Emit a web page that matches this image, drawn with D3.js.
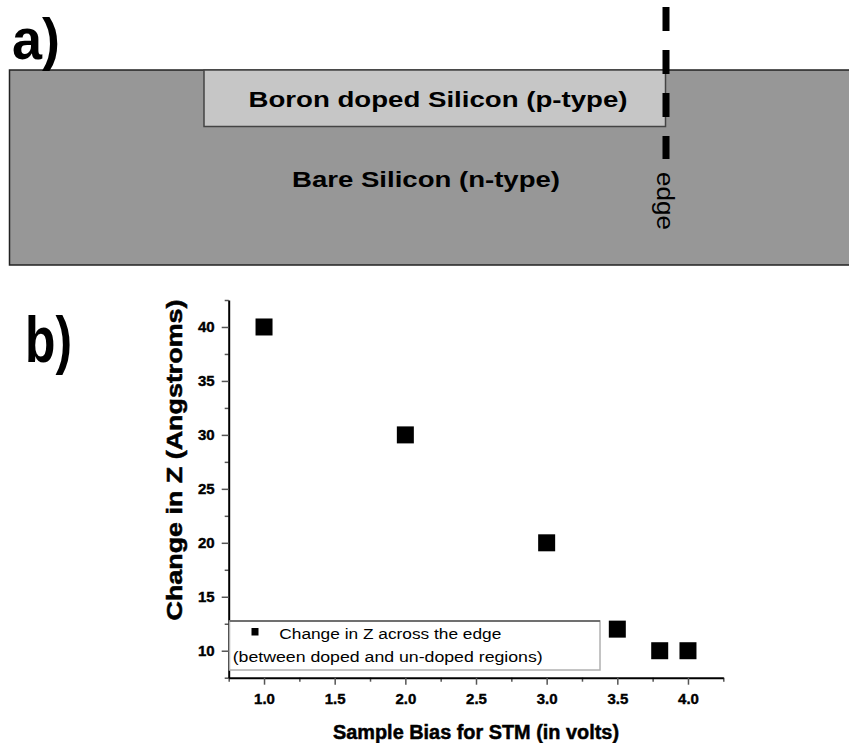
<!DOCTYPE html>
<html>
<head>
<meta charset="utf-8">
<script src="https://cdn.jsdelivr.net/npm/d3@7"></script>
<style>
  html, body { margin: 0; padding: 0; background: #fff; }
  svg { display: block; font-family: "Liberation Sans", Arial, sans-serif; }
</style>
</head>
<body>
<svg id="fig" width="849" height="743"></svg>
<script>
// Sample bias (V) and measured step height across the doped/un-doped edge (Å)
const sampleBias = [1.0, 2.0, 3.0, 3.5, 3.8, 4.0];
const deltaZ = [40, 30, 20, 12, 10, 10];

const xMajorTicks = [1.0, 1.5, 2.0, 2.5, 3.0, 3.5, 4.0];
const xMinorTicks = [0.75, 1.25, 1.75, 2.25, 2.75, 3.25, 3.75, 4.25];
const yMajorTicks = [10, 15, 20, 25, 30, 35, 40];
const yMinorTicks = [7.5, 12.5, 17.5, 22.5, 27.5, 32.5, 37.5, 42.5];

const svg = d3.select("#fig");

// ---------- panel a: schematic of the sample ----------
const pa = svg.append("g");
pa.append("rect")
  .attr("x", 9.5).attr("y", 70).attr("width", 860).attr("height", 195)
  .attr("fill", "#979797").attr("stroke", "#222").attr("stroke-width", 1.5);
pa.append("rect")
  .attr("x", 204).attr("y", 70).attr("width", 461.5).attr("height", 56.5)
  .attr("fill", "#c6c6c6").attr("stroke", "#444").attr("stroke-width", 1.5);
pa.append("line")
  .attr("x1", 666).attr("x2", 666).attr("y1", 7).attr("y2", 159)
  .attr("stroke", "#000").attr("stroke-width", 7)
  .attr("stroke-dasharray", "24 19");
pa.append("text")
  .attr("transform", "translate(657,172) rotate(90)")
  .attr("font-size", 23).attr("textLength", 58).attr("lengthAdjust", "spacingAndGlyphs")
  .text("edge");
pa.append("text")
  .attr("x", 438).attr("y", 107).attr("text-anchor", "middle")
  .attr("font-size", 22).attr("font-weight", "bold")
  .attr("textLength", 379).attr("lengthAdjust", "spacingAndGlyphs")
  .text("Boron doped Silicon (p-type)");
pa.append("text")
  .attr("x", 426).attr("y", 187).attr("text-anchor", "middle")
  .attr("font-size", 22).attr("font-weight", "bold")
  .attr("textLength", 268).attr("lengthAdjust", "spacingAndGlyphs")
  .text("Bare Silicon (n-type)");
svg.append("text")
  .attr("x", 12).attr("y", 59)
  .attr("font-size", 58).attr("font-weight", "bold")
  .attr("textLength", 48).attr("lengthAdjust", "spacingAndGlyphs")
  .text("a)");

// ---------- panel b: step height vs. sample bias ----------
svg.append("text")
  .attr("x", 25).attr("y", 362)
  .attr("font-size", 64).attr("font-weight", "bold")
  .attr("textLength", 47).attr("lengthAdjust", "spacingAndGlyphs")
  .text("b)");

const x = d3.scaleLinear().domain([0.75, 4.25]).range([228.7, 723.3]);
const y = d3.scaleLinear().domain([7.5, 42.5]).range([677.7, 300]);

// minor ticks first, majors with labels on top
const xMinor = svg.append("g").attr("transform", `translate(0,${y(7.5)})`)
  .call(d3.axisBottom(x).tickValues(xMinorTicks).tickSize(4).tickFormat(""));
const yMinor = svg.append("g").attr("transform", `translate(${x(0.75)},0)`)
  .call(d3.axisLeft(y).tickValues(yMinorTicks).tickSize(4).tickFormat(""));

const xAxis = svg.append("g").attr("transform", `translate(0,${y(7.5)})`)
  .call(d3.axisBottom(x).tickValues(xMajorTicks).tickSize(7).tickPadding(9)
    .tickSizeOuter(0).tickFormat(d3.format(".1f")));
const yAxis = svg.append("g").attr("transform", `translate(${x(0.75)},0)`)
  .call(d3.axisLeft(y).tickValues(yMajorTicks).tickSize(7).tickPadding(7)
    .tickSizeOuter(0).tickFormat(d3.format("d")));

[xMinor, yMinor].forEach(g => {
  g.select(".domain").remove();
  g.selectAll(".tick line").attr("stroke", "#555").attr("stroke-width", 1.5);
});
[xAxis, yAxis].forEach(g => {
  g.select(".domain").attr("stroke", "#000").attr("stroke-width", 2);
  g.selectAll(".tick line").attr("stroke", "#555").attr("stroke-width", 1.5);
  g.selectAll(".tick text")
    .attr("font-family", "'Liberation Sans', Arial, sans-serif")
    .attr("font-size", 15).attr("font-weight", "bold").attr("fill", "#000")
    .attr("stroke", "#000").attr("stroke-width", 0.4);
});

// axis titles
svg.append("text")
  .attr("x", (x.range()[0] + x.range()[1]) / 2).attr("y", 739)
  .attr("text-anchor", "middle")
  .attr("font-size", 20).attr("font-weight", "bold")
  .attr("stroke", "#000").attr("stroke-width", 0.5)
  .attr("textLength", 286).attr("lengthAdjust", "spacingAndGlyphs")
  .text("Sample Bias for STM (in volts)");
svg.append("text")
  .attr("transform", "translate(182,460) rotate(-90)")
  .attr("text-anchor", "middle")
  .attr("font-size", 22).attr("font-weight", "bold")
  .attr("stroke", "#000").attr("stroke-width", 0.5)
  .attr("textLength", 321).attr("lengthAdjust", "spacingAndGlyphs")
  .text("Change in Z (Angstroms)");

// legend
const lg = svg.append("g");
lg.append("rect")
  .attr("x", 229.5).attr("y", 621).attr("width", 370.5).attr("height", 49)
  .attr("fill", "#fff").attr("stroke", "#b0b0b0").attr("stroke-width", 1.5);
lg.append("line")
  .attr("x1", 229.5).attr("x2", 600).attr("y1", 621).attr("y2", 621)
  .attr("stroke", "#555").attr("stroke-width", 1.5);
lg.append("rect")
  .attr("x", 251.5).attr("y", 628).attr("width", 7).attr("height", 7.5)
  .attr("fill", "#000");
lg.append("text")
  .attr("x", 279.3).attr("y", 639).attr("font-size", 14)
  .attr("textLength", 222).attr("lengthAdjust", "spacingAndGlyphs")
  .text("Change in Z across the edge");
lg.append("text")
  .attr("x", 232.7).attr("y", 661.5).attr("font-size", 14)
  .attr("textLength", 310).attr("lengthAdjust", "spacingAndGlyphs")
  .text("(between doped and un-doped regions)");

// data markers
const size = 17;
svg.append("g").selectAll("rect")
  .data(sampleBias.map((b, i) => ({ b, z: deltaZ[i] })))
  .join("rect")
  .attr("x", d => x(d.b) - size / 2)
  .attr("y", d => y(d.z) - size / 2)
  .attr("width", size).attr("height", size)
  .attr("fill", "#000");
</script>
</body>
</html>
